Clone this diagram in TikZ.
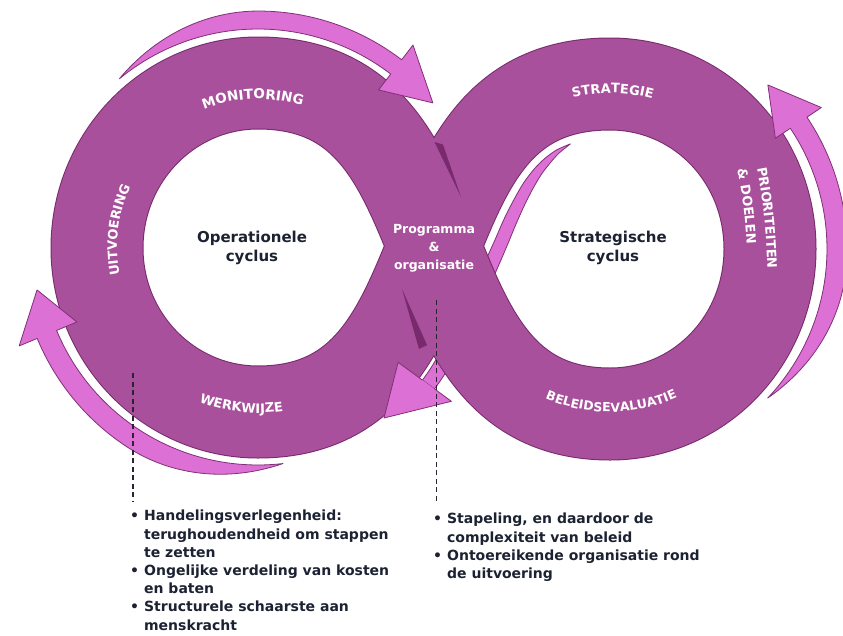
\documentclass[tikz,border=0pt]{standalone}
\usepackage{fontspec}
\setmainfont{DejaVu Sans}
\usetikzlibrary{decorations.text,calc}
\definecolor{bandfill}{RGB}{168,80,155}
\definecolor{bandedge}{RGB}{118,42,108}
\definecolor{arrowfill}{RGB}{220,112,212}
\definecolor{arrowedge}{RGB}{128,48,118}
\definecolor{shadowc}{RGB}{112,36,100}
\definecolor{textdark}{RGB}{28,34,50}
\definecolor{dashc}{RGB}{40,36,50}
\newcommand\lblfont{\fontsize{13}{13}\selectfont\bfseries\color{white}}
\newcommand\lblfontM{\fontsize{13.6}{13}\selectfont\bfseries\color{white}}
\newcommand\lblfontS{\fontsize{12.5}{13}\selectfont\bfseries\color{white}}
\def\bandpath{(97,-248) .. controls (97,-338.5) and (169,-412) .. (258,-412) .. controls (368,-412) and (400.2,-329.4) .. (434,-246) .. controls (467.8,-162.6) and (500,-84) .. (610,-84) .. controls (699,-84) and (770,-157) .. (770,-249) .. controls (770,-341) and (699,-414) .. (610,-414) .. controls (500,-414) and (467.8,-329.4) .. (434,-246) .. controls (400.2,-162.6) and (368,-83) .. (258,-83) .. controls (169,-83) and (97,-157) .. (97,-248) -- cycle}
\tikzset{
  arrowshape/.style={fill=arrowfill, draw=arrowedge, line width=0.8pt, line join=round},
  lbl/.style={decorate, decoration={text along path, text align=center, text={|\lblfont|#1}}},
  lblM/.style={decorate, decoration={text along path, text align=center, text={|\lblfontM|#1}}},
  lblS/.style={decorate, decoration={text along path, text align=center, text={|\lblfontS|#1}}},
  lblL/.style={decorate, decoration={text along path, text align=left, text={|\lblfont|#1}}},
  cycletext/.style={align=center, text=textdark, font=\fontsize{15}{19}\selectfont\bfseries},
  listtext/.style={anchor=north west, inner sep=0pt, text=textdark, font=\fontsize{14}{18.2}\selectfont\bfseries},
  dashline/.style={draw=dashc, line width=1.2pt, dash pattern=on 5pt off 3.5pt},
}
\begin{document}
\begin{tikzpicture}[x=1pt,y=1pt]
\useasboundingbox (0,0) rectangle (843,-635);
\fill[white] (0,0) rectangle (843,-635);

% central arrow body (goes under the crossing)
\path[arrowshape] plot[smooth] coordinates {(570.4,-143.9) (556.7,-149.9) (545.1,-158.2) (534.2,-169) (523.6,-182.9) (513.7,-200) (503.7,-219.8) (494,-242.1) (483.1,-265.9) (471.8,-290.8) (459.7,-316.5) (446.2,-342.1) (431,-367.8) (422.4,-380.1)}
  -- plot[smooth] coordinates {(434.5,-388.9) (443.6,-375.9) (459.5,-349.1) (472.9,-322.5) (484.7,-296.1) (496.1,-271.1) (506.4,-247.3) (515.5,-225.3) (524.2,-205.7) (532.7,-189) (541,-174.9) (549.6,-163.6) (558.7,-153.4) (570.4,-143.9)} -- cycle;

% the band
\draw[bandedge, line width=93pt, line join=round] \bandpath;
\draw[bandfill, line width=91pt, line join=round] \bandpath;

% fold shadows
\fill[shadowc, fill opacity=0.85] (434.5,-142) -- (443,-144.5) -- (461,-197) -- cycle;
\fill[shadowc, fill opacity=0.85] (402,-289) -- (427,-345) -- (419,-349) -- cycle;

% central arrow head
\fill[arrowfill] (421.4,-379.4) -- (398.1,-362.3) -- (384,-418) -- (451.4,-401.3) -- (433.5,-388.2) -- cycle;
\draw[arrowedge, line width=0.8pt, line join=round] (422.4,-380.1) -- (398.1,-362.3) -- (384,-418) -- (451.4,-401.3) -- (434.5,-388.9);

% top-left arrow
\path[arrowshape] plot[domain=129.5:52.5, samples=50, variable=\t] ({258+218*cos(\t)},{-247+218*sin(\t)})
 -- ({258+198*cos(52.5)},{-247+198*sin(52.5)})
 -- ({258+226.6*cos(39.5)},{-247+226.6*sin(39.5)})
 -- ({258+254.6*cos(52.5)},{-247+254.6*sin(52.5)})
 -- plot[domain=52.5:129.5, samples=50, variable=\t] ({258+(218+18*sin(min(90,(129.5-\t)*2.25)))*cos(\t)},{-247+(218+18*sin(min(90,(129.5-\t)*2.25)))*sin(\t)})
 -- cycle;

% right arrow
\path[arrowshape] plot[domain=-43.4:33.8, samples=50, variable=\t] ({610+217*cos(\t)},{-249+217*sin(\t)})
 -- ({610+199*cos(33.8)},{-249+199*sin(33.8)})
 -- ({610+227.7*cos(46.1)},{-249+227.7*sin(46.1)})
 -- ({610+254.3*cos(33.8)},{-249+254.3*sin(33.8)})
 -- plot[domain=33.8:-43.4, samples=50, variable=\t] ({610+(217+20*sin(min(90,(\t+43.4)*2.25)))*cos(\t)},{-249+(217+20*sin(min(90,(\t+43.4)*2.25)))*sin(\t)})
 -- cycle;

% bottom-left arrow
\path[arrowshape] plot[domain=276.6:202.5, samples=50, variable=\t] ({258+218*cos(\t)},{-247+218*sin(\t)})
 -- ({258+196*cos(202.5)},{-247+196*sin(202.5)})
 -- ({258+225.1*cos(191)},{-247+225.1*sin(191)})
 -- ({258+258.5*cos(202.5)},{-247+258.5*sin(202.5)})
 -- plot[domain=202.5:276.6, samples=50, variable=\t] ({258+(218+21*sin(min(90,(276.6-\t)*2.25)))*cos(\t)},{-247+(218+21*sin(min(90,(276.6-\t)*2.25)))*sin(\t)})
 -- cycle;

% band labels
\path[lblM=MONITORING] (258,-247) ++(125:148) arc[start angle=125, end angle=59, radius=148pt];
\path[lbl=UITVOERING] (258,-247) ++(205:141) arc[start angle=205, end angle=141, radius=141pt];
\path[lbl=WERKWIJZE] (258,-247) ++(244:166) arc[start angle=244, end angle=284, radius=166pt];
\path[lbl=STRATEGIE] (610,-249) ++(120:156) arc[start angle=120, end angle=58, radius=156pt];
\path[lblS=BELEIDSEVALUATIE] (610,-249) ++(232:163) arc[start angle=232, end angle=309, radius=163pt];
\path[lblL=PRIORITEITEN] (757,-168) .. controls (764,-205) and (768,-245) .. (768,-300);
\path[lblL={{\&} DOELEN}] (737,-170) .. controls (744,-200) and (748,-235) .. (748,-290);

% centre texts
\node[cycletext] (opc) at (252,-248) {Operationele\\cyclus};
\node[cycletext] (stc) at (613,-248) {Strategische\\cyclus};
\node[align=center, text=white, font=\fontsize{12.5}{18}\selectfont\bfseries] (prog) at (434,-248) {Programma\\\&\\organisatie};

% bullet lists
\node[listtext] (list1) at (130,-508) {\begin{tabular}{@{}l@{\hspace{5pt}}l@{}}
•&Handelingsverlegenheid:\\
&terughoudendheid om stappen\\
&te zetten\\
•&Ongelijke verdeling van kosten\\
&en baten\\
•&Structurele schaarste aan\\
&menskracht
\end{tabular}};
\node[listtext] (list2) at (433,-511) {\begin{tabular}{@{}l@{\hspace{5pt}}l@{}}
•&Stapeling, en daardoor de\\
&complexiteit van beleid\\
•&Ontoereikende organisatie rond\\
&de uitvoering
\end{tabular}};

% dashed connectors
\coordinate (dL) at (133,-373);
\coordinate (dR) at (436.5,-300);
\draw[dashline] (dL) -- ($(dL |- list1.north)+(0,6)$);
\draw[dashline] (dR) -- ($(dR |- list2.north)+(0,9)$);
\end{tikzpicture}
\end{document}
